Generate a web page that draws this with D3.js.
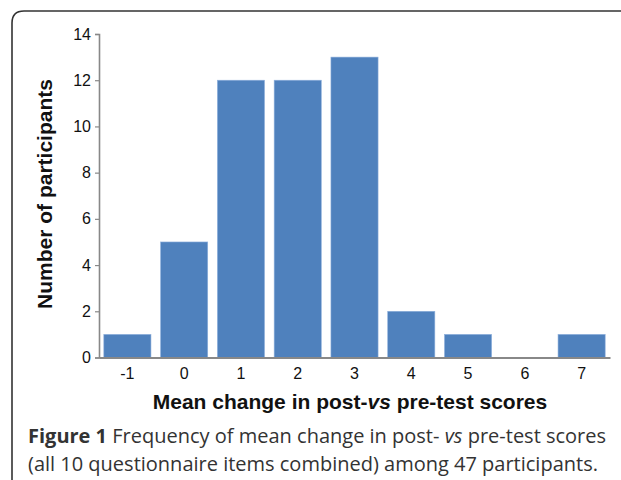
<!DOCTYPE html>
<html>
<head>
<meta charset="utf-8">
<script src="https://cdn.jsdelivr.net/npm/d3@7"></script>
<style>
  body { margin: 0; background: #fff; }
  svg { display: block; }
</style>
</head>
<body>
<svg id="chart"></svg>
<script>
// data
const categories = ["-1", "0", "1", "2", "3", "4", "5", "6", "7"];
const participants = [1, 5, 12, 12, 13, 2, 1, 0, 1];
const yTicks = [0, 2, 4, 6, 8, 10, 12, 14];

const svgWidth = 621, svgHeight = 480;
const margin = { top: 34, right: 12, bottom: 122, left: 99 };
const width = 610 - margin.left;
const height = 357.5 - margin.top;
const chartFont = "'Liberation Sans', Arial, sans-serif";

const svg = d3.select("#chart")
  .attr("width", svgWidth)
  .attr("height", svgHeight);

// frame with rounded top-left corner, running off the page
svg.append("path")
  .attr("d", "M12,490 L12,23 Q12,11 24,11 L630,11")
  .attr("fill", "none")
  .attr("stroke", "#333")
  .attr("stroke-width", 1.6);

const g = svg.append("g")
  .attr("transform", "translate(" + margin.left + "," + margin.top + ")");

const x = d3.scaleBand().domain(categories).range([0, width]).paddingInner(0.17).paddingOuter(0.085);
const y = d3.scaleLinear().domain([0, 14]).range([height, 0]);

g.selectAll("rect.bar")
  .data(participants)
  .join("rect")
  .attr("class", "bar")
  .attr("x", (d, i) => x(categories[i]))
  .attr("y", d => y(d))
  .attr("width", x.bandwidth())
  .attr("height", d => height - y(d))
  .attr("fill", "#4f81bd")
  .attr("stroke", "#8eb0dc")
  .attr("stroke-width", 0.6);

// y axis
const yAxis = g.append("g")
  .call(d3.axisLeft(y).tickValues(yTicks).tickSize(4).tickPadding(4));
yAxis.attr("font-size", 16).attr("font-family", chartFont);
yAxis.select(".domain").attr("stroke", "#888").attr("stroke-width", 1.6);
yAxis.selectAll(".tick line").attr("stroke", "#888").attr("stroke-width", 1.2);
yAxis.selectAll(".tick text").attr("fill", "#111");

// x axis
const xAxis = g.append("g")
  .attr("transform", "translate(0," + height + ")")
  .call(d3.axisBottom(x).tickSize(0).tickPadding(10).tickSizeOuter(0));
xAxis.attr("font-size", 16).attr("font-family", chartFont);
xAxis.select(".domain").attr("stroke", "#888").attr("stroke-width", 2);
xAxis.selectAll(".tick text").attr("fill", "#111");

// axis titles
const xTitle = svg.append("text")
  .attr("x", 350)
  .attr("y", 409)
  .attr("text-anchor", "middle")
  .attr("fill", "#111")
  .attr("font-family", chartFont)
  .attr("font-size", 21)
  .attr("font-weight", "bold");
xTitle.append("tspan").text("Mean change in post-");
xTitle.append("tspan").attr("font-style", "italic").text("vs");
xTitle.append("tspan").text(" pre-test scores");

svg.append("text")
  .attr("transform", "translate(52,194) rotate(-90)")
  .attr("text-anchor", "middle")
  .attr("fill", "#111")
  .attr("font-family", chartFont)
  .attr("font-size", 21)
  .attr("font-weight", "bold")
  .text("Number of participants");

// caption
const capFont = "'Open Sans', 'Noto Sans', sans-serif";
const cap1 = svg.append("text")
  .attr("x", 28)
  .attr("y", 443)
  .attr("fill", "#333")
  .attr("font-family", capFont)
  .attr("font-size", 20);
cap1.append("tspan").attr("font-weight", "bold").text("Figure 1");
cap1.append("tspan").text(" Frequency of mean change in post- ");
cap1.append("tspan").attr("font-style", "italic").text("vs");
cap1.append("tspan").text(" pre-test scores");

svg.append("text")
  .attr("x", 28)
  .attr("y", 471)
  .attr("fill", "#333")
  .attr("font-family", capFont)
  .attr("font-size", 20)
  .text("(all 10 questionnaire items combined) among 47 participants.");
</script>
</body>
</html>
